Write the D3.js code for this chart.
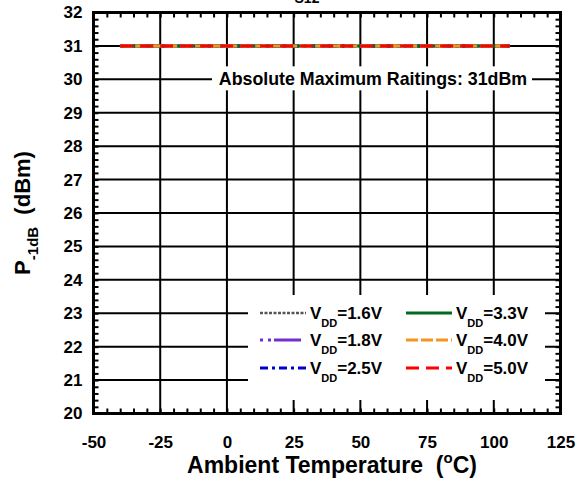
<!DOCTYPE html>
<html>
<head>
<meta charset="utf-8">
<script src="https://cdn.jsdelivr.net/npm/d3@7"></script>
<style>
  html, body { margin: 0; padding: 0; background: #fff; }
  svg { display: block; font-family: "Liberation Sans", Arial, sans-serif; }
</style>
</head>
<body>
<svg id="chart" width="585" height="478"></svg>
<script>
// ---- data ----
const temperature = [-40, -25, 0, 25, 50, 75, 100, 106];
const vdd16 = [31, 31, 31, 31, 31, 31, 31, 31];
const vdd18 = [31, 31, 31, 31, 31, 31, 31, 31];
const vdd25 = [31, 31, 31, 31, 31, 31, 31, 31];
const vdd33 = [31, 31, 31, 31, 31, 31, 31, 31];
const vdd40 = [31, 31, 31, 31, 31, 31, 31, 31];
const vdd50 = [31, 31, 31, 31, 31, 31, 31, 31];
const seriesLabels = ["=1.6V", "=1.8V", "=2.5V", "=3.3V", "=4.0V", "=5.0V"];
const xTicks = [-50, -25, 0, 25, 50, 75, 100, 125];
const yTicks = [20, 21, 22, 23, 24, 25, 26, 27, 28, 29, 30, 31, 32];
const annotationText = "Absolute Maximum Raitings: 31dBm";
const annotationValue = 30;

// ---- styles ----
const seriesStyles = [
  { color: "#555555", dash: "3,1.5", width: 2.5 },
  { color: "#7030D0", dash: "3,5,3,3,27,5", width: 3 },
  { color: "#0000CC", dash: "8,4,3,4", width: 3 },
  { color: "#006A1E", dash: null, width: 3 },
  { color: "#F7941D", dash: "12,3", width: 3 },
  { color: "#FF0000", dash: "13,7", width: 3 }
];
const seriesData = [vdd16, vdd18, vdd25, vdd33, vdd40, vdd50];

const svg = d3.select("#chart");
const L = 93.5, R = 560.5, T = 12.5, B = 413.5;
const x = d3.scaleLinear().domain([-50, 125]).range([L, R]);
const y = d3.scaleLinear().domain([20, 32]).range([B, T]);

// cut-off title fragment at very top (clipped in the reference too)
svg.append("text").attr("x", 307).attr("y", 3).attr("text-anchor", "middle")
  .attr("font-size", 14).attr("font-weight", "bold").text("S12");

// grid
const grid = svg.append("g");
grid.selectAll("line.v").data(xTicks.filter(d => d > -50 && d < 125)).join("line")
  .attr("x1", d => x(d)).attr("x2", d => x(d)).attr("y1", T).attr("y2", B)
  .attr("stroke", "#000").attr("stroke-width", 2);
grid.selectAll("line.h").data(yTicks.filter(d => d > 20 && d < 32)).join("line")
  .attr("y1", d => y(d)).attr("y2", d => y(d)).attr("x1", L).attr("x2", R)
  .attr("stroke", "#000").attr("stroke-width", 2);

// minor ticks (inside)
const xMinor = d3.range(-50, 125.001, 5);
const yMinor = d3.range(20, 32.001, 0.2);
function minorAxis(axis, tr) {
  const g = svg.append("g").attr("transform", tr).call(axis);
  g.select(".domain").remove();
  g.selectAll("text").remove();
  g.selectAll("line").attr("stroke", "#000").attr("stroke-width", 2);
}
minorAxis(d3.axisBottom(x).tickValues(xMinor).tickSize(-5).tickFormat(""), `translate(0,${B})`);
minorAxis(d3.axisTop(x).tickValues(xMinor).tickSize(-5).tickFormat(""), `translate(0,${T})`);
minorAxis(d3.axisLeft(y).tickValues(yMinor).tickSize(-5).tickFormat(""), `translate(${L},0)`);
minorAxis(d3.axisRight(y).tickValues(yMinor).tickSize(-5).tickFormat(""), `translate(${R},0)`);

// annotation
svg.append("rect").attr("x", 212).attr("y", y(annotationValue) - 13).attr("width", 320).attr("height", 24).attr("fill", "#fff");
svg.append("text").attr("x", 373).attr("y", y(annotationValue) + 6).attr("text-anchor", "middle")
  .attr("font-size", 17.8).attr("font-weight", "bold").text(annotationText);

// data lines
const line = d3.line().x((d, i) => x(temperature[i])).y(d => y(d));
seriesData.forEach((s, k) => {
  const st = seriesStyles[k];
  svg.append("path").datum(s).attr("d", line).attr("fill", "none")
    .attr("stroke", st.color).attr("stroke-width", st.width)
    .attr("stroke-dasharray", st.dash);
});

// legend
svg.append("rect").attr("x", 248).attr("y", 295).attr("width", 297).attr("height", 105).attr("fill", "#fff");
const legendPos = [
  { lx: 260, ly: 313 }, { lx: 260, ly: 340 }, { lx: 260, ly: 368 },
  { lx: 406, ly: 313 }, { lx: 406, ly: 340 }, { lx: 406, ly: 368 }
];
seriesLabels.forEach((lab, k) => {
  const p = legendPos[k], st = seriesStyles[k];
  svg.append("line").attr("x1", p.lx).attr("x2", p.lx + 46).attr("y1", p.ly).attr("y2", p.ly)
    .attr("stroke", st.color).attr("stroke-width", st.width).attr("stroke-dasharray", st.dash);
  const t = svg.append("text").attr("x", p.lx + 50).attr("y", p.ly + 6)
    .attr("font-size", 17).attr("font-weight", "bold");
  t.append("tspan").text("V");
  t.append("tspan").attr("font-size", 11).attr("dy", 8).text("DD");
  t.append("tspan").attr("dy", -8).text(lab);
});

// frame
svg.append("rect").attr("x", L).attr("y", T).attr("width", R - L).attr("height", B - T)
  .attr("fill", "none").attr("stroke", "#000").attr("stroke-width", 3);

// tick labels
const fmt = d => String(d);
const xa = svg.append("g").attr("transform", `translate(0,${B})`)
  .call(d3.axisBottom(x).tickValues(xTicks).tickSize(0).tickPadding(22).tickFormat(fmt));
xa.select(".domain").remove();
xa.selectAll("text").attr("font-size", 17).attr("font-weight", "bold").attr("fill", "#000")
  .attr("font-family", "Liberation Sans, Arial, sans-serif");
const ya = svg.append("g").attr("transform", `translate(${L},0)`)
  .call(d3.axisLeft(y).tickValues(yTicks).tickSize(0).tickPadding(11).tickFormat(fmt));
ya.select(".domain").remove();
ya.selectAll("text").attr("font-size", 17).attr("font-weight", "bold").attr("fill", "#000")
  .attr("font-family", "Liberation Sans, Arial, sans-serif");

// axis titles
const xt = svg.append("text").attr("x", (L + R) / 2 + 5).attr("y", 473).attr("text-anchor", "middle")
  .attr("font-size", 23).attr("font-weight", "bold").attr("xml:space", "preserve");
xt.append("tspan").text("Ambient Temperature  (");
xt.append("tspan").attr("font-size", 15).attr("dy", -10).text("o");
xt.append("tspan").attr("dy", 10).text("C)");

const yt = svg.append("text").attr("transform", `translate(30,${(T + B) / 2}) rotate(-90)`)
  .attr("text-anchor", "middle").attr("font-size", 22).attr("font-weight", "bold")
  .attr("xml:space", "preserve");
yt.append("tspan").text("P");
yt.append("tspan").attr("font-size", 15).attr("dy", 8).text("-1dB");
yt.append("tspan").attr("dy", -8).text("  (dBm)");
</script>
</body>
</html>
